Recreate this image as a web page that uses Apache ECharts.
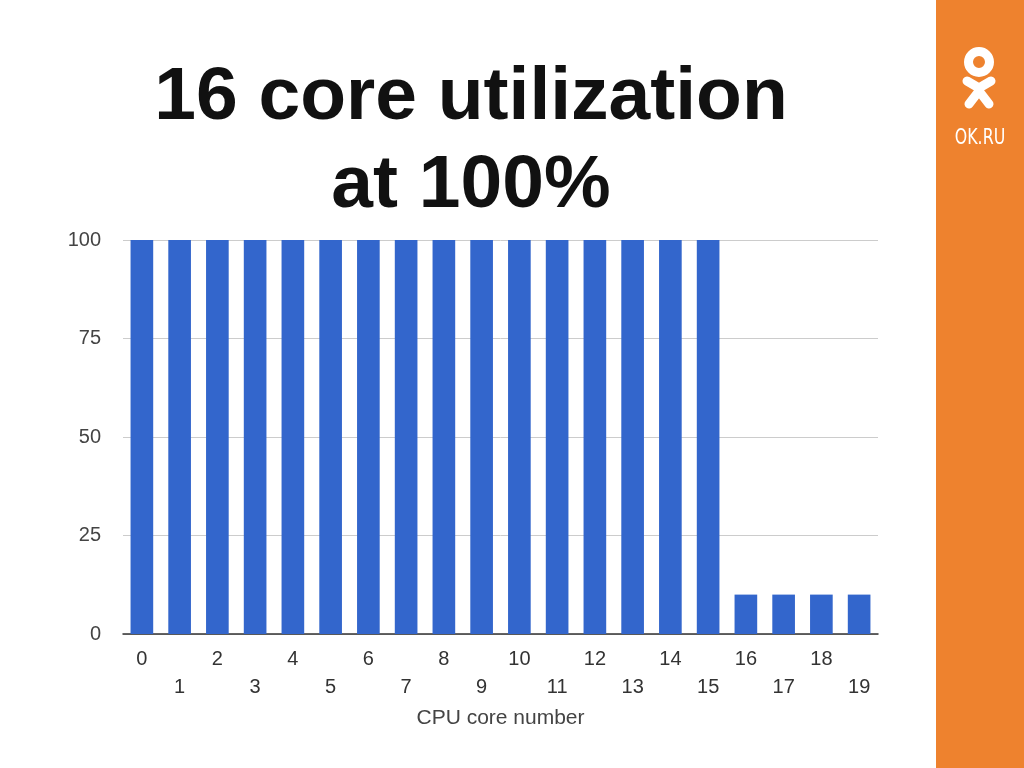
<!DOCTYPE html>
<html>
<head>
<meta charset="utf-8">
<script src="https://cdn.jsdelivr.net/npm/echarts@6/dist/echarts.min.js"></script>
<style>html,body{margin:0;padding:0;background:#fff}#c{width:1024px;height:768px}</style>
</head>
<body>
<div id="c"></div>
<script>
const titleText = "16 core utilization\nat 100%";
const xAxisName = "CPU core number";
const categories = ["0","1","2","3","4","5","6","7","8","9","10","11","12","13","14","15","16","17","18","19"];
const utilization = [100,100,100,100,100,100,100,100,100,100,100,100,100,100,100,100,10,10,10,10];
const yTicks = [0, 25, 50, 75, 100];

const chart = echarts.init(document.getElementById('c'), null, {renderer: 'canvas'});
chart.setOption({
  animation: false,
  backgroundColor: '#ffffff',
  title: {
    text: titleText,
    left: 466,
    top: 49,
    textAlign: 'center',
    textStyle: {
      fontFamily: 'Liberation Sans, Arial, sans-serif',
      fontWeight: 'bold',
      fontSize: 75,
      lineHeight: 88,
      color: '#111111'
    }
  },
  grid: {left: 123, right: 146, top: 240, bottom: 134},
  xAxis: {
    type: 'category',
    data: categories,
    name: xAxisName,
    nameLocation: 'middle',
    nameGap: 74,
    nameTextStyle: {fontFamily: 'Liberation Sans, Arial, sans-serif', fontSize: 21, color: '#444444', verticalAlign: 'top'},
    axisLine: {lineStyle: {color: '#333333', width: 1.5}},
    axisTick: {show: false},
    axisLabel: {
      interval: 0,
      margin: 11,
      fontFamily: 'Liberation Sans, Arial, sans-serif',
      fontSize: 20,
      lineHeight: 28,
      color: '#333333',
      formatter: function (v, i) { return i % 2 === 1 ? '\n' + v : v; }
    }
  },
  yAxis: {
    type: 'value',
    min: yTicks[0],
    max: yTicks[yTicks.length - 1],
    interval: 25,
    axisLine: {show: false},
    axisTick: {show: false},
    axisLabel: {margin: 22, fontFamily: 'Liberation Sans, Arial, sans-serif', fontSize: 20, color: '#444444'},
    splitLine: {lineStyle: {color: '#cccccc', width: 1}}
  },
  series: [{
    type: 'bar',
    data: utilization,
    barWidth: '60%',
    itemStyle: {color: '#3366cc'}
  }],
  graphic: [
    {type: 'rect', shape: {x: 936, y: 0, width: 88, height: 768}, style: {fill: '#ee822e'}, z: 10},
    {type: 'circle', shape: {cx: 979, cy: 62, r: 10.5}, style: {fill: 'none', stroke: '#ffffff', lineWidth: 9}, z: 11},
    {type: 'polyline', shape: {points: [[967, 81], [979, 88], [991, 81]]}, style: {fill: 'none', stroke: '#ffffff', lineWidth: 9, lineCap: 'round', lineJoin: 'round'}, z: 11},
    {type: 'polyline', shape: {points: [[969, 104], [979, 91], [989, 104]]}, style: {fill: 'none', stroke: '#ffffff', lineWidth: 9, lineCap: 'round', lineJoin: 'round'}, z: 11},
    {type: 'text', x: 980, y: 138, scaleX: 0.8, scaleY: 1, style: {text: 'OK.RU', x: 0, y: 0, align: 'center', verticalAlign: 'middle', fill: '#ffffff', font: '22px "DejaVu Sans Condensed", "Liberation Sans Narrow", sans-serif'}, z: 11}
  ]
});
</script>
</body>
</html>
